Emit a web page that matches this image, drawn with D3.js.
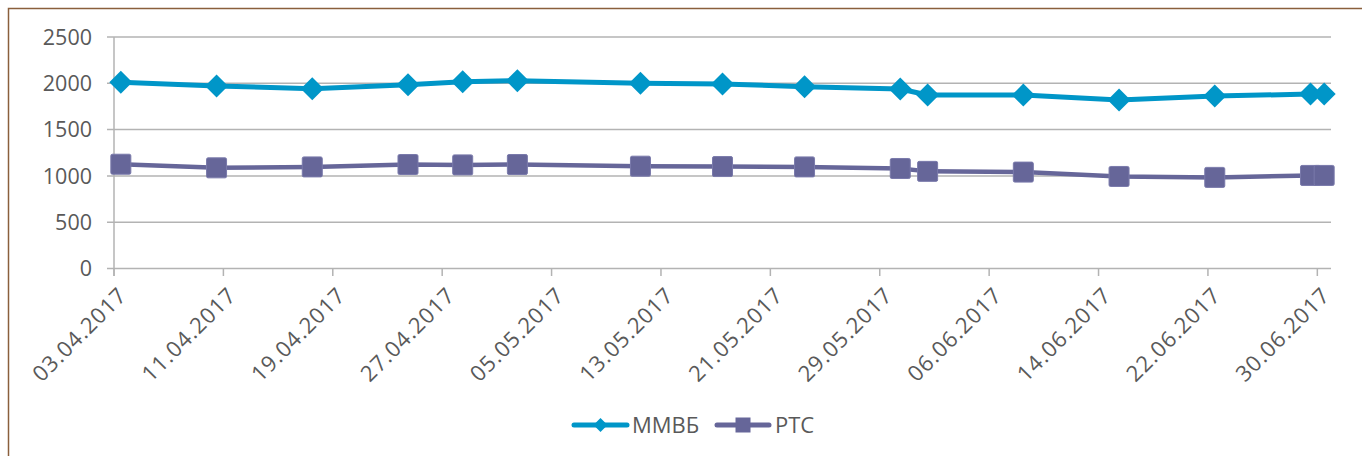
<!DOCTYPE html>
<html><head><meta charset="utf-8">
<script src="https://cdn.jsdelivr.net/npm/d3@7"></script>
<style>
html,body{margin:0;padding:0;background:#fff;}
svg{display:block;}
text{font-family:"Open Sans","Noto Sans",sans-serif;fill:#595959;}
</style></head>
<body><svg id="c" width="1362" height="456"></svg>
<script>
const dates = ["03.04.2017","10.04.2017","17.04.2017","24.04.2017","28.04.2017","02.05.2017","11.05.2017","17.05.2017","23.05.2017","30.05.2017","01.06.2017","08.06.2017","15.06.2017","22.06.2017","29.06.2017","30.06.2017"];
const mmvb = [2011,1971,1942,1985,2017,2028,2000,1993,1964,1939,1873,1873,1819,1862,1884,1884];
const rts  = [1126,1087,1097,1123,1119,1123,1105,1101,1097,1080,1049,1041,994,984,1005,1005];
const tickLabels = ["03.04.2017","11.04.2017","19.04.2017","27.04.2017","05.05.2017","13.05.2017","21.05.2017","29.05.2017","06.06.2017","14.06.2017","22.06.2017","30.06.2017"];
const yTicks = [0,500,1000,1500,2000,2500];
const seriesNames = ["ММВБ","РТС"];

const parse = d3.utcParse("%d.%m.%Y");
const svg = d3.select("#c");
const C1 = "#0096c8", C2 = "#666699";

// frame
svg.append("path").attr("d","M8.5,456 L8.5,8.5 L1362,8.5").attr("fill","none").attr("stroke","#8a5f3c").attr("stroke-width",1.5);

const x = d3.scaleUtc().domain([parse("03.04.2017"), parse("01.07.2017")]).range([114, 1331]);
const y = d3.scaleLinear().domain([0,2500]).range([268.5, 37]);
const half = 12*3600*1000;
const xp = s => x(new Date(parse(s).getTime()+half));

// gridlines
svg.append("g").selectAll("line").data(yTicks).join("line")
  .attr("x1",107).attr("x2",1331).attr("y1",d=>y(d)).attr("y2",d=>y(d))
  .attr("stroke","#b3b3b3").attr("stroke-width",1.5);
// y labels
svg.append("g").selectAll("text").data(yTicks).join("text")
  .attr("x",92).attr("y",d=>y(d)).attr("dy","0.36em").attr("text-anchor","end")
  .style("font-size","21.5px").text(d=>d);
// y axis line
svg.append("line").attr("x1",114).attr("x2",114).attr("y1",37).attr("y2",276).attr("stroke","#b3b3b3").attr("stroke-width",1.5);
// x ticks
svg.append("g").selectAll("line").data(tickLabels).join("line")
  .attr("x1",d=>x(parse(d))).attr("x2",d=>x(parse(d))).attr("y1",268.5).attr("y2",276)
  .attr("stroke","#b3b3b3").attr("stroke-width",1.5);
svg.append("g").selectAll("text").data(tickLabels).join("text")
  .attr("transform",d=>`translate(${x(parse(d))+8.5},${291}) rotate(-45)`)
  .attr("text-anchor","end").attr("dy","0.36em")
  .style("font-size","22px").style("letter-spacing","1px").text(d=>d);

// lines
const line = d3.line().x((d,i)=>xp(dates[i])).y(d=>y(d));
svg.append("path").datum(rts).attr("d",line).attr("fill","none").attr("stroke",C2).attr("stroke-width",4.5).attr("stroke-linejoin","round");
svg.append("g").selectAll("rect").data(rts).join("rect")
  .attr("x",(d,i)=>xp(dates[i])-10).attr("y",d=>y(d)-10).attr("width",20).attr("height",20).attr("rx",1.5)
  .attr("fill",C2).attr("stroke","#7a7aab").attr("stroke-width",1);
svg.append("path").datum(mmvb).attr("d",line).attr("fill","none").attr("stroke",C1).attr("stroke-width",5).attr("stroke-linejoin","round");
const diamond = (cx,cy,r)=>`M${cx},${cy-r}L${cx+r},${cy}L${cx},${cy+r}L${cx-r},${cy}Z`;
svg.append("g").selectAll("path").data(mmvb).join("path")
  .attr("d",(d,i)=>diamond(xp(dates[i]),y(d),11.5)).attr("fill",C1);

// legend
const lg = svg.append("g");
lg.append("line").attr("x1",574).attr("x2",627).attr("y1",425).attr("y2",425).attr("stroke",C1).attr("stroke-width",5).attr("stroke-linecap","round");
lg.append("path").attr("d",diamond(600.5,425,7)).attr("fill",C1);
lg.append("text").attr("x",632).attr("y",433).style("font-size","22px").text(seriesNames[0]);
lg.append("line").attr("x1",717).attr("x2",769).attr("y1",425).attr("y2",425).attr("stroke",C2).attr("stroke-width",5).attr("stroke-linecap","round");
lg.append("rect").attr("x",735.5).attr("y",417.5).attr("width",15).attr("height",15).attr("fill",C2);
lg.append("text").attr("x",775).attr("y",433).style("font-size","22px").text(seriesNames[1]);
</script></body></html>
